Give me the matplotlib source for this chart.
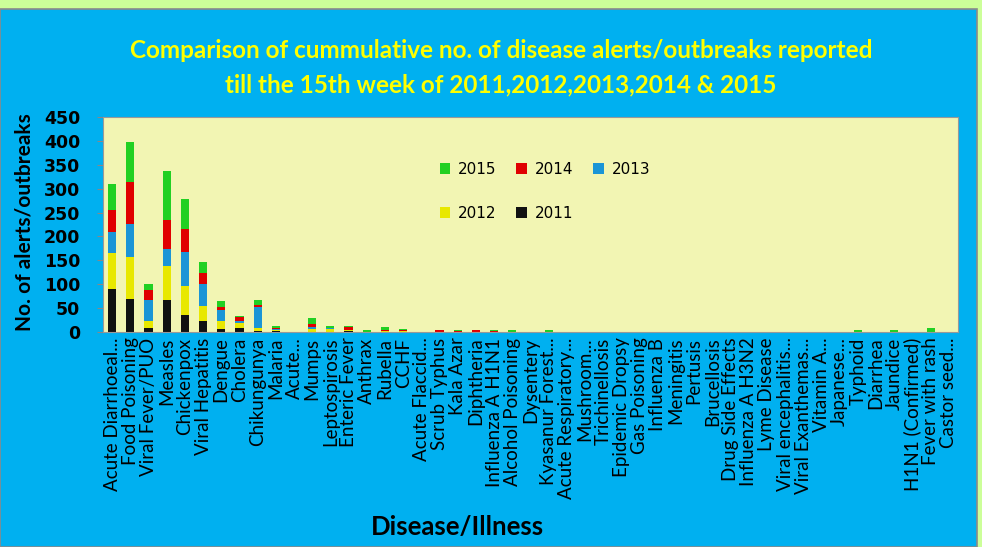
import numpy as np
import matplotlib
matplotlib.use("Agg")
import matplotlib.pyplot as plt
from matplotlib.patches import Rectangle

# Disease categories (x axis)
diseases = ['Acute Diarrhoeal...', 'Food Poisoning', 'Viral Fever/PUO', 'Measles',
            'Chickenpox', 'Viral Hepatitis', 'Dengue', 'Cholera', 'Chikungunya',
            'Malaria', 'Acute...', 'Mumps', 'Leptospirosis', 'Enteric Fever',
            'Anthrax', 'Rubella', 'CCHF', 'Acute Flaccid...', 'Scrub Typhus',
            'Kala Azar', 'Diphtheria', 'Influenza A H1N1', 'Alcohol Poisoning',
            'Dysentery', 'Kyasanur Forest...', 'Acute Respiratory...', 'Mushroom...',
            'Trichinellosis', 'Epidemic Dropsy', 'Gas Poisoning', 'Influenza B',
            'Meningitis', 'Pertusis', 'Brucellosis', 'Drug Side Effects',
            'Influenza A H3N2', 'Lyme Disease', 'Viral encephalitis...',
            'Viral Exanthemas...', 'Vitamin A...', 'Japanese...', 'Typhoid',
            'Diarrhea', 'Jaundice', 'H1N1 (Confirmed)', 'Fever with rash',
            'Castor seed...']

# cumulative alerts/outbreaks per year (estimated from the chart), 10 per line
y2011 = [90, 69, 8, 67, 36, 23, 6, 8, 2, 2,
         0, 0, 1, 3, 0, 1, 1, 0, 0, 0,
         0, 0, 0, 0, 0, 0, 0, 0, 0, 0,
         0, 0, 0, 0, 0, 0, 0, 0, 0, 0,
         0, 0, 0, 0, 0, 0, 0]
y2012 = [75, 89, 16, 72, 60, 31, 18, 10, 7, 3,
         0, 7, 6, 1, 0, 1, 1, 0, 0, 1,
         0, 0, 0, 0, 0, 0, 0, 0, 0, 0,
         0, 0, 0, 0, 0, 0, 0, 0, 0, 0,
         0, 0, 0, 0, 0, 0, 0]
y2013 = [45, 68, 43, 35, 71, 46, 22, 5, 43, 1,
         0, 3, 1, 0, 0, 0, 0, 0, 0, 0,
         0, 1, 0, 0, 0, 0, 0, 0, 0, 0,
         0, 0, 0, 0, 0, 0, 0, 0, 0, 0,
         0, 0, 0, 0, 0, 0, 0]
y2014 = [45, 88, 20, 60, 49, 24, 6, 8, 5, 3,
         0, 7, 1, 7, 1, 3, 3, 0, 4, 1,
         4, 1, 0, 0, 0, 0, 0, 0, 0, 0,
         0, 0, 0, 0, 0, 0, 0, 0, 0, 0,
         0, 0, 0, 0, 0, 0, 0]
y2015 = [54, 84, 13, 103, 62, 22, 13, 3, 9, 4,
         0, 13, 4, 1, 3, 5, 1, 0, 0, 3,
         0, 3, 4, 0, 4, 0, 0, 0, 0, 0,
         0, 0, 0, 0, 0, 0, 0, 0, 0, 0,
         0, 5, 0, 5, 0, 8, 0]

years = ['2011', '2012', '2013', '2014', '2015']
series = [y2011, y2012, y2013, y2014, y2015]
colors = ['#111111', '#E8E800', '#1B95D6', '#E00000', '#22D022']

fig = plt.figure(figsize=(9.82, 5.47), dpi=100)
fig.patch.set_facecolor('#CCFF99')
# blue chart area
fig.patches.append(Rectangle((0, 0), 977 / 982, 1 - 9 / 547, transform=fig.transFigure,
                             facecolor='#00B0F0', edgecolor='#8A8A8A', linewidth=1.2,
                             zorder=-10))

ax = fig.add_axes([103 / 982, 1 - 332 / 547, 855 / 982, 215 / 547])
ax.set_facecolor('#F2F5B3')

x = np.arange(len(diseases))
bottom = np.zeros(len(diseases))
bars = {}
for yr, vals, c in zip(years, series, colors):
    vals = np.array(vals, dtype=float)
    bars[yr] = ax.bar(x, vals, width=0.45, bottom=bottom, color=c, linewidth=0)
    bottom += vals

ax.set_xlim(-0.5, len(diseases) - 0.5)
ax.set_ylim(0, 450)
ax.set_yticks(range(0, 451, 50))
ax.set_xticks(x)
ax.set_xticklabels(diseases, rotation=90, family='Lato', fontsize=13.5)
ax.tick_params(axis='x', length=0, pad=4)
ax.tick_params(axis='y', length=4.3, color='#888888', pad=12)
for lab in ax.get_yticklabels():
    lab.set_family('DejaVu Sans')
    lab.set_fontweight('bold')
    lab.set_fontsize(12.5)
for s in ax.spines.values():
    s.set_color('#999999')
    s.set_linewidth(0.8)

# legend laid out row by row: 2015 2014 2013 / 2012 2011
order = ['2015', '2012', '2014', '2011', '2013']
leg = ax.legend([bars[k] for k in order], order, ncol=3, frameon=False,
                loc='upper left', bbox_to_anchor=(426 / 982, 1 - 148 / 547),
                bbox_transform=fig.transFigure, prop={'family': 'DejaVu Sans', 'size': 11},
                handlelength=0.7, handleheight=0.7, handletextpad=0.5,
                columnspacing=1.3, labelspacing=1.9)

fig.text(0.51, 1 - 50 / 547, 'Comparison of cummulative no. of disease alerts/outbreaks reported',
         ha='center', va='center', color='#FFFF00', fontsize=17.5, fontweight='bold',
         family='Lato')
fig.text(0.51, 1 - 85 / 547, 'till the 15th week of 2011,2012,2013,2014 & 2015',
         ha='center', va='center', color='#FFFF00', fontsize=17.5, fontweight='bold',
         family='Lato')
fig.text(25 / 982, 1 - 222 / 547, 'No. of alerts/outbreaks', rotation=90, ha='center',
         va='center', fontsize=15, fontweight='bold', family='Lato')
fig.text(457 / 982, 1 - 527 / 547, 'Disease/Illness', ha='center', va='center',
         fontsize=18.5, fontweight='bold', family='Lato')

fig.savefig('out.png', dpi=100, facecolor=fig.get_facecolor())
